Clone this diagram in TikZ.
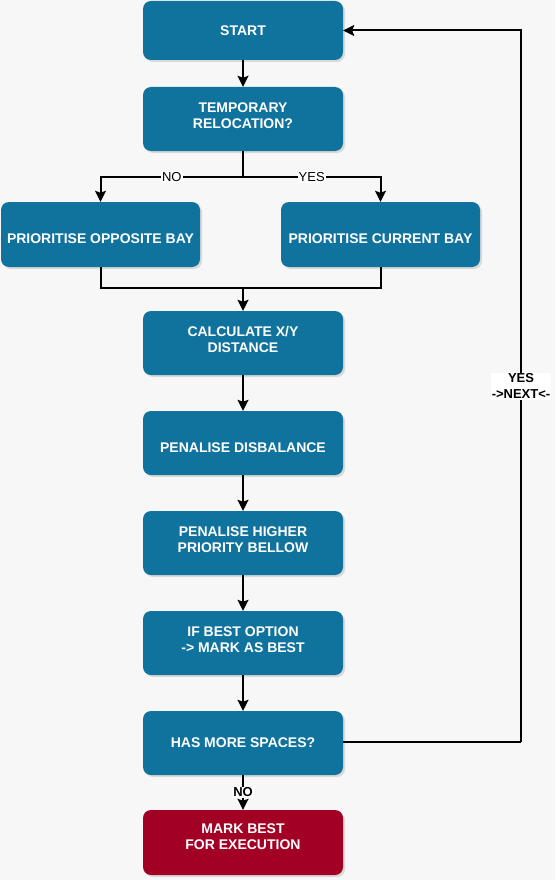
\documentclass[tikz,border=0pt]{standalone}
\usepackage{fontspec}
\setmainfont{Liberation Sans}
\usetikzlibrary{arrows.meta,shadows}
\definecolor{stepblue}{HTML}{10739E}
\definecolor{endred}{HTML}{A20025}
\definecolor{canvas}{HTML}{F7F7F7}
\begin{document}
\begin{tikzpicture}[x=1pt, y=-1pt, >={Stealth[length=11pt,width=11pt,inset=2pt]},
	box/.style={rectangle, rounded corners=8pt, minimum width=200pt,
		minimum height=64pt, fill=stepblue, text=white, align=center,
		font=\fontsize{14}{16}\selectfont\bfseries,
		drop shadow={shadow xshift=2pt, shadow yshift=-2pt, opacity=0.25}},
	raised/.style={text depth=7pt},
	lowered/.style={text height=19pt},
	flow/.style={line width=2pt},
	tag/.style={fill=white, inner sep=1pt, font=\fontsize{13}{15}\selectfont}]
% Canvas
\fill[canvas] (0,0) rectangle (555,880);

% Steps
\node[box, minimum height=59pt] (Start) at (243,30.5) {START};
\node[box, raised] (Relocate) at (243,119) {TEMPORARY\\RELOCATION?};
\node[box, lowered, minimum width=199pt, minimum height=65pt]
	(Opposite) at (100.5,234.5) {PRIORITISE OPPOSITE BAY};
\node[box, lowered, minimum width=199pt, minimum height=65pt]
	(Current) at (380.5,234.5) {PRIORITISE CURRENT BAY};
\node[box, raised] (Distance) at (243,343) {CALCULATE X/Y\\DISTANCE};
\node[box, lowered] (Balance) at (243,443) {PENALISE DISBALANCE};
\node[box, raised] (Priority) at (243,543) {PENALISE HIGHER\\PRIORITY BELLOW};
\node[box, raised] (Best) at (243,643) {IF BEST OPTION\\-> MARK AS BEST};
\node[box] (More) at (243,743) {HAS MORE SPACES?};
\node[box, raised, text depth=11pt, fill=endred, minimum height=65pt]
	(Mark) at (243,842.5) {MARK BEST\\FOR EXECUTION};

% Branch points
\coordinate (Split) at (243,177);
\coordinate (Join) at (243,288);
\coordinate (Loop) at (521,742);

% Connectors
\draw[->, flow] (Start) -- (Relocate);
\draw[flow] (Relocate) -- (Split);
\draw[->, flow] (Split) -| node[tag, pos=0.25] {NO} (Opposite);
\draw[->, flow] (Split) -| node[tag, pos=0.25] {YES} (Current);
\draw[flow] (Opposite) |- (Join);
\draw[flow] (Current) |- (Join);
\draw[->, flow] (Join) -- (Distance);
\foreach \a/\b in {Distance/Balance, Balance/Priority, Priority/Best, Best/More}
{
	\draw[->, flow] (\a) -- (\b);
}
\draw[flow] (More.east |- Loop) -- (Loop);
\draw[->, flow] (Loop) |- node[tag, pos=0.25, align=center,
	font=\fontsize{13}{16}\selectfont\bfseries] {YES\\->NEXT<-} (Start.east);
\draw[->, flow] (More) -- node[tag, font=\fontsize{13}{15}\selectfont\bfseries] {NO} (Mark);
\end{tikzpicture}
\end{document}
